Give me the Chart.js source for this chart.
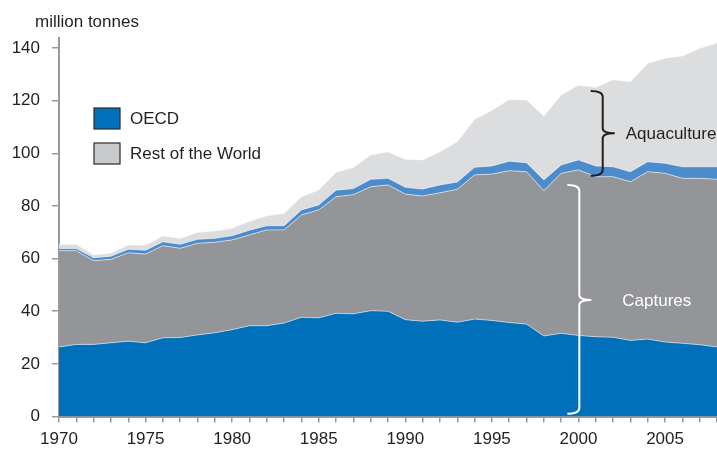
<!DOCTYPE html>
<html>
<head>
<meta charset="utf-8">
<script src="https://cdn.jsdelivr.net/npm/chart.js@4.4.1/dist/chart.umd.min.js"></script>
<style>
  html, body { margin: 0; padding: 0; background: #ffffff; }
  #wrap { width: 717px; height: 451px; position: relative; }
</style>
</head>
<body>
<div id="wrap"><canvas id="chart" width="717" height="451"></canvas></div>
<script>
// World fish production, million tonnes
const years = [1970, 1971, 1972, 1973, 1974, 1975, 1976, 1977, 1978, 1979,
               1980, 1981, 1982, 1983, 1984, 1985, 1986, 1987, 1988, 1989,
               1990, 1991, 1992, 1993, 1994, 1995, 1996, 1997, 1998, 1999,
               2000, 2001, 2002, 2003, 2004, 2005, 2006, 2007, 2008];

// Captures
const oecdCaptures = [26.4, 27.4, 27.4, 28.0, 28.6, 28.0, 29.9, 30.0, 31.0, 31.8,
                      33.0, 34.5, 34.5, 35.5, 37.7, 37.5, 39.2, 39.0, 40.2, 40.0,
                      36.8, 36.2, 36.7, 35.8, 37.0, 36.5, 35.7, 35.1, 30.6, 31.6,
                      30.8, 30.3, 30.1, 28.9, 29.4, 28.3, 27.8, 27.3, 26.4];
const restCaptures = [36.6, 35.6, 31.8, 31.7, 33.6, 33.7, 35.0, 33.9, 34.8, 34.4,
                      34.1, 34.5, 36.4, 35.4, 38.9, 41.0, 44.3, 45.3, 47.1, 48.0,
                      47.7, 47.6, 48.3, 50.5, 54.8, 55.6, 57.7, 57.9, 55.2, 60.8,
                      62.9, 60.8, 61.0, 60.3, 63.6, 64.1, 62.7, 63.2, 63.7];

// Aquaculture
const oecdAquaculture = [0.8, 0.8, 1.1, 1.2, 1.3, 1.5, 1.5, 1.5, 1.5, 1.5,
                         1.6, 1.8, 1.6, 1.6, 1.9, 1.9, 2.5, 2.3, 2.8, 2.5,
                         2.6, 2.6, 3.0, 2.8, 2.9, 3.1, 3.6, 3.4, 4.1, 3.2,
                         3.8, 4.1, 3.8, 3.8, 3.8, 3.8, 4.4, 4.4, 4.8];
const restAquaculture = [1.6, 1.6, 1.1, 1.1, 1.7, 1.9, 2.2, 2.3, 2.7, 2.8,
                         2.8, 3.4, 3.8, 4.7, 5.0, 5.7, 6.8, 8.0, 9.3, 10.1,
                         10.6, 11.1, 12.6, 15.3, 18.2, 21.2, 23.4, 23.9, 24.3, 26.6,
                         28.4, 29.9, 33.0, 34.2, 37.4, 39.9, 42.1, 45.0, 47.1];

const yTickValues = [0, 20, 40, 60, 80, 100, 120, 140];
const xTickLabels = [1970, 1975, 1980, 1985, 1990, 1995, 2000, 2005];
const unitLabel = 'million tonnes';
const legendItems = [
  { label: 'OECD', color: '#0070ba' },
  { label: 'Rest of the World', color: '#c9cacc' }
];
const groupLabels = { aquaculture: 'Aquaculture', captures: 'Captures' };

const FONT = '17px "Liberation Sans", Arial, sans-serif';
const TEXT = '#231f20';
const AXIS = '#9a9a9c';

// Legend, unit label and the two braces grouping the layers
const annotations = {
  id: 'annotations',
  afterDraw(chart) {
    const ctx = chart.ctx;
    const xs = chart.scales.x, ys = chart.scales.y;
    const xAt = idx => xs.getPixelForDecimal(idx / (years.length - 1));
    ctx.save();
    ctx.font = FONT;
    ctx.fillStyle = TEXT;
    ctx.textBaseline = 'alphabetic';
    ctx.textAlign = 'left';
    ctx.fillText(unitLabel, 35, 27);

    // legend
    legendItems.forEach((it, i) => {
      const top = 108 + i * 35;
      ctx.fillStyle = it.color;
      ctx.fillRect(94, top, 26, 21);
      ctx.lineWidth = 1.2;
      ctx.strokeStyle = '#2b2b2b';
      ctx.strokeRect(94, top, 26, 21);
      ctx.fillStyle = TEXT;
      ctx.textBaseline = 'middle';
      ctx.fillText(it.label, 130, top + 11);
    });

    function brace(x, yTop, yBot, yMid, color) {
      ctx.beginPath();
      ctx.strokeStyle = color;
      ctx.lineWidth = 2;
      ctx.moveTo(x - 12, yTop);
      ctx.quadraticCurveTo(x, yTop, x, yTop + 6);
      ctx.lineTo(x, yMid - 5);
      ctx.quadraticCurveTo(x, yMid, x + 12, yMid);
      ctx.moveTo(x + 12, yMid);
      ctx.quadraticCurveTo(x, yMid, x, yMid + 5);
      ctx.lineTo(x, yBot - 6);
      ctx.quadraticCurveTo(x, yBot, x - 12, yBot);
      ctx.stroke();
    }
    // Aquaculture brace
    const ax = xAt(31.4);
    const aTop = ys.getPixelForValue(123.7), aBot = ys.getPixelForValue(91.5);
    const aMid = (aTop + aBot) / 2;
    brace(ax, aTop, aBot, aMid, '#231f20');
    ctx.fillStyle = TEXT;
    ctx.textBaseline = 'middle';
    ctx.fillText(groupLabels.aquaculture, ax + 23, aMid + 1);

    // Captures brace
    const cx = xAt(30.05);
    const cTop = ys.getPixelForValue(88), cBot = ys.getPixelForValue(1);
    const cMid = ys.getPixelForValue(44.3);
    brace(cx, cTop, cBot, cMid, '#ffffff');
    ctx.fillStyle = '#ffffff';
    ctx.fillText(groupLabels.captures, cx + 43, cMid + 1);
    ctx.restore();
  }
};

const layer = (label, data, color, fill) => ({
  label, data, fill,
  backgroundColor: color,
  borderColor: 'rgba(255,255,255,0.55)',
  borderWidth: 1,
  pointRadius: 0,
  tension: 0
});

new Chart(document.getElementById('chart'), {
  type: 'line',
  data: {
    labels: years,
    datasets: [
      layer('OECD captures', oecdCaptures, '#0070ba', 'origin'),
      layer('Rest of the World captures', restCaptures, '#939598', '-1'),
      layer('OECD aquaculture', oecdAquaculture, '#4d8ccc', '-1'),
      layer('Rest of the World aquaculture', restAquaculture, '#dcdddf', '-1')
    ]
  },
  options: {
    responsive: false,
    animation: false,
    layout: { padding: { top: 37.5, right: 0, left: 0, bottom: 0 } },
    plugins: { legend: { display: false }, tooltip: { enabled: false } },
    scales: {
      x: {
        type: 'category',
        offset: false,
        grid: { drawOnChartArea: false, drawTicks: true, tickLength: 6, color: AXIS, lineWidth: 1.5 },
        border: { display: true, color: AXIS, width: 2 },
        ticks: {
          autoSkip: false, maxRotation: 0, minRotation: 0, padding: 7,
          color: TEXT, font: { family: '"Liberation Sans", Arial, sans-serif', size: 17 },
          callback: (v, i) => xTickLabels.includes(years[i]) ? String(years[i]) : ''
        },
        afterFit: s => { s.height = 34.5; s.paddingLeft = 0; s.paddingRight = 0; }
      },
      y: {
        stacked: true,
        min: 0, max: 144,
        afterBuildTicks: s => { s.ticks = yTickValues.map(v => ({ value: v })); },
        grid: { drawOnChartArea: false, drawTicks: true, tickLength: 7, color: AXIS, lineWidth: 1.5 },
        border: { display: true, color: AXIS, width: 2 },
        ticks: {
          padding: 12, color: TEXT,
          font: { family: '"Liberation Sans", Arial, sans-serif', size: 17 }
        },
        afterFit: s => { s.width = 59; s.paddingTop = 0; s.paddingBottom = 0; }
      }
    }
  },
  plugins: [annotations]
});
</script>
</body>
</html>
